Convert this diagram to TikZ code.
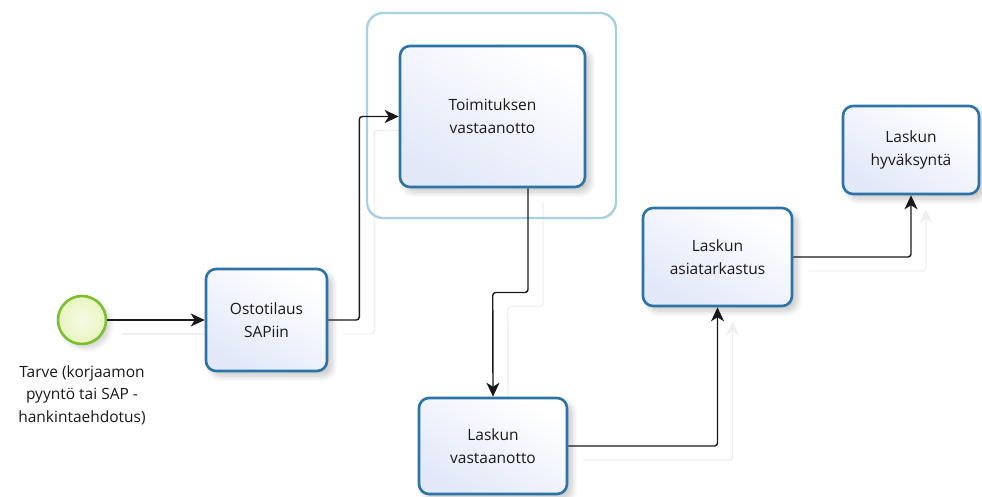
\documentclass[tikz,border=0pt]{standalone}
\usepackage{fontspec}
\setmainfont{Open Sans}
\usetikzlibrary{arrows.meta,calc,shadows.blur}
\pgfdeclarelayer{background}
\pgfsetlayers{background,main}

\definecolor{taskline}{HTML}{2C74A6}
\definecolor{taskfill}{HTML}{E2E8F8}
\definecolor{startline}{HTML}{7DBE2E}
\definecolor{startfill}{HTML}{E8F4C0}
\definecolor{groupline}{HTML}{A9CFE1}
\definecolor{ghost}{HTML}{EFEFEF}

\tikzset{
  task/.style={draw=taskline, line width=2.6pt, rounded corners=10pt,
    top color=white, bottom color=taskfill, shading angle=-30,
    align=center, inner sep=0pt,
    font=\fontsize{15.5}{23}\selectfont, text=black!90,
    blur shadow={shadow xshift=5pt, shadow yshift=-5pt,
      shadow blur radius=6pt, shadow blur steps=8, shadow opacity=22}},
  startev/.style={circle, draw=startline, line width=2.6pt,
    inner color=startfill!40, outer color=startfill, minimum size=48pt,
    blur shadow={shadow xshift=4pt, shadow yshift=-4pt,
      shadow blur radius=5pt, shadow blur steps=6, shadow opacity=18}},
  flow/.style={draw=black!90, line width=1.4pt, rounded corners=3pt,
    -{Stealth[length=14pt,width=13pt,inset=4pt]}},
  flowghost/.style={flow, draw=ghost,
    transform canvas={xshift=15pt,yshift=-14pt}},
  grp/.style={draw=groupline, line width=2.4pt, rounded corners=16pt}
}

\begin{document}
\begin{tikzpicture}[x=1pt,y=-1pt]
  \useasboundingbox (0,0) rectangle (982,496);

  % group frame around the delivery task
  \draw[grp] (367,13) rectangle (616,218);

  % events and tasks
  \node[startev] (start) at (82,320) {};
  \node[task, minimum width=121pt, minimum height=102pt] (ost) at (266.5,320)
    {Ostotilaus\\SAPiin};
  \node[task, minimum width=185pt, minimum height=141pt] (toim) at (492.5,116.5)
    {Toimituksen\\vastaanotto};
  \node[task, minimum width=148pt, minimum height=96pt] (lv) at (493,446)
    {Laskun\\vastaanotto};
  \node[task, minimum width=149pt, minimum height=98pt] (la) at (717.5,257)
    {Laskun\\asiatarkastus};
  \node[task, minimum width=136pt, minimum height=88pt] (lh) at (911,150)
    {Laskun\\hyväksyntä};

  \node[anchor=north, align=center, inner sep=0pt,
        font=\fontsize{15.5}{22.5}\selectfont, text=black!90]
    (lbl) at ([yshift=-20pt]start.south)
    {Tarve (korjaamon\\pyyntö tai SAP -\\hankintaehdotus)};

  % faint connector shadows behind everything
  \begin{pgfonlayer}{background}
    \draw[flowghost] (start.east) -- (ost.west);
    \draw[flowghost] (ost.east) -- ++(31,0) |- (toim.west);
    \draw[flowghost] ([xshift=35.5pt]toim.south)
      |- ($(toim.south)!.5!(lv.north)$) -- (lv.north);
    \draw[flowghost] (lv.east) -| (la.south);
    \draw[flowghost] (la.east) -| (lh.south);
  \end{pgfonlayer}

  % sequence flows
  \draw[flow] (start.east) -- (ost.west);
  \draw[flow] (ost.east) -- ++(31,0) |- (toim.west);
  \draw[flow] ([xshift=35.5pt]toim.south)
    |- ($(toim.south)!.5!(lv.north)$) -- (lv.north);
  \draw[flow] (lv.east) -| (la.south);
  \draw[flow] (la.east) -| (lh.south);
\end{tikzpicture}
\end{document}
